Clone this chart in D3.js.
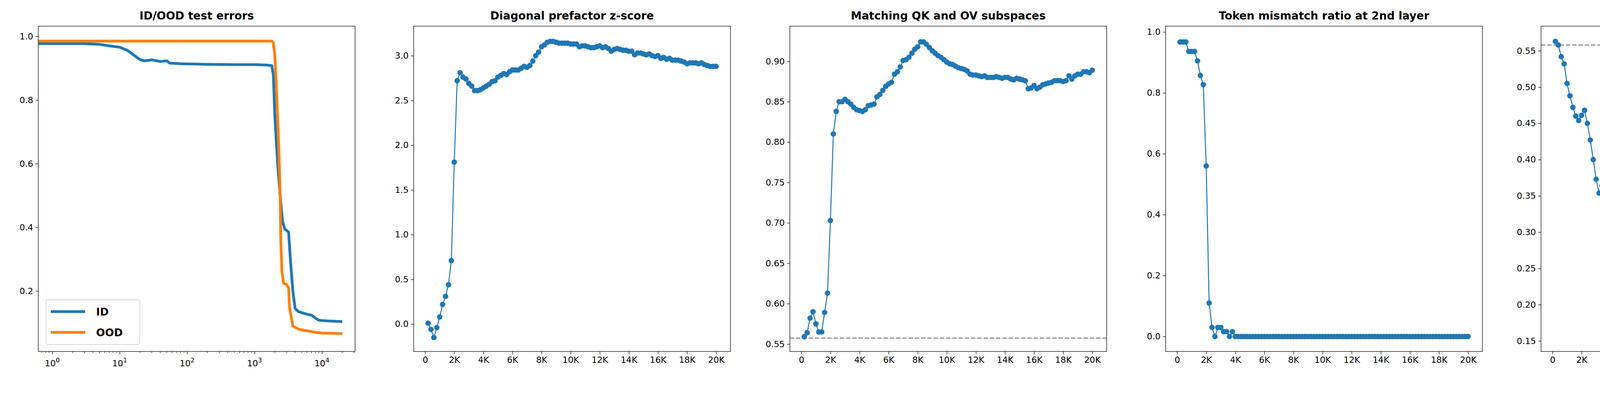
<!DOCTYPE html>
<html>
<head>
<meta charset="utf-8">
<script src="https://cdn.jsdelivr.net/npm/d3@7"></script>
<style>
  body { margin: 0; background: #fff; }
  text { font-family: "DejaVu Sans", sans-serif; }
</style>
</head>
<body>
<svg id="fig" width="4766" height="1055"></svg>
<script>
// ---- data ----
const titles = ["ID/OOD test errors", "Diagonal prefactor z-score", "Matching QK and OV subspaces",
                "Token mismatch ratio at 2nd layer", "Matching wte and 1st OV"];

const idSteps = [0.6, 3, 5, 7, 10, 13, 16, 20, 23, 30, 40, 50, 55, 80, 200, 500, 1000, 1500, 1800, 1900, 2000, 2200, 2400, 2600, 2800, 3000, 3200, 3400, 3700, 4000, 4500, 5000, 6000, 7000, 8000, 9000, 12000, 20000];
const idErr = [0.977, 0.977, 0.975, 0.970, 0.966, 0.956, 0.942, 0.927, 0.923, 0.926, 0.921, 0.923, 0.916, 0.914, 0.912, 0.911, 0.911, 0.910, 0.908, 0.88, 0.75, 0.60, 0.50, 0.42, 0.395, 0.39, 0.385, 0.30, 0.20, 0.145, 0.135, 0.132, 0.127, 0.124, 0.115, 0.108, 0.106, 0.104];
const oodSteps = [0.6, 1800, 1900, 2000, 2100, 2300, 2400, 2450, 2550, 2700, 3000, 3200, 3300, 3700, 4500, 6000, 8000, 10000, 20000];
const oodErr = [0.985, 0.985, 0.98, 0.94, 0.85, 0.64, 0.50, 0.36, 0.26, 0.225, 0.22, 0.21, 0.15, 0.09, 0.08, 0.075, 0.070, 0.068, 0.066];

// steps 200, 400, ..., 20000
const steps = d3.range(200, 20001, 200);

const zScore = [0.01, -0.06, -0.15, -0.04, 0.08, 0.22, 0.31, 0.44, 0.71, 1.81,
  2.72, 2.81, 2.76, 2.74, 2.69, 2.66, 2.61, 2.61, 2.62, 2.64,
  2.66, 2.68, 2.71, 2.72, 2.76, 2.78, 2.80, 2.79, 2.82, 2.84,
  2.84, 2.84, 2.86, 2.88, 2.87, 2.89, 2.94, 3.00, 3.04, 3.10,
  3.12, 3.15, 3.16, 3.16, 3.15, 3.14, 3.14, 3.14, 3.14, 3.13,
  3.13, 3.13, 3.10, 3.11, 3.11, 3.10, 3.09, 3.09, 3.10, 3.11,
  3.09, 3.10, 3.08, 3.05, 3.07, 3.08, 3.07, 3.06, 3.06, 3.05,
  3.05, 3.01, 3.03, 3.03, 3.02, 3.01, 3.02, 3.00, 2.99, 3.00,
  2.97, 2.98, 2.96, 2.97, 2.95, 2.95, 2.95, 2.94, 2.93, 2.91,
  2.92, 2.92, 2.92, 2.91, 2.92, 2.90, 2.89, 2.88, 2.88, 2.88];

const qkov = [0.559, 0.564, 0.582, 0.590, 0.575, 0.565, 0.565, 0.589, 0.613, 0.703,
  0.810, 0.838, 0.850, 0.850, 0.853, 0.850, 0.847, 0.843, 0.840, 0.839,
  0.838, 0.840, 0.845, 0.846, 0.847, 0.856, 0.859, 0.864, 0.869, 0.872,
  0.874, 0.884, 0.887, 0.893, 0.901, 0.902, 0.905, 0.910, 0.915, 0.918,
  0.924, 0.924, 0.921, 0.917, 0.913, 0.910, 0.907, 0.905, 0.902, 0.899,
  0.897, 0.896, 0.894, 0.892, 0.891, 0.890, 0.888, 0.884, 0.883, 0.883,
  0.882, 0.881, 0.882, 0.880, 0.880, 0.880, 0.881, 0.880, 0.879, 0.880,
  0.880, 0.878, 0.877, 0.879, 0.878, 0.877, 0.876, 0.866, 0.867, 0.870,
  0.866, 0.868, 0.871, 0.872, 0.873, 0.874, 0.876, 0.876, 0.876, 0.875,
  0.876, 0.882, 0.878, 0.882, 0.884, 0.884, 0.887, 0.887, 0.886, 0.889];
const qkovBaseline = 0.5573;

const mismatch = [0.967, 0.967, 0.967, 0.936, 0.936, 0.936, 0.905, 0.857, 0.827, 0.56,
  0.11, 0.03, 0.0, 0.03, 0.03, 0.016, 0.016, 0.0, 0.016, 0.0]
  .concat(new Array(80).fill(0));

const wteOv = [0.563, 0.558, 0.542, 0.532, 0.505, 0.488, 0.472, 0.460, 0.454, 0.461,
  0.468, 0.450, 0.427, 0.400, 0.373, 0.354, 0.364, 0.345, 0.325, 0.299,
  0.280, 0.258, 0.241, 0.230, 0.219, 0.213, 0.205, 0.191, 0.182, 0.181,
  0.176, 0.173, 0.170, 0.164, 0.167, 0.167, 0.168, 0.167, 0.163, 0.166,
  0.169, 0.170, 0.172, 0.175, 0.176, 0.176, 0.174, 0.178, 0.179, 0.179,
  0.178, 0.182, 0.179, 0.181, 0.183, 0.184, 0.180, 0.182, 0.183, 0.183,
  0.185, 0.185, 0.185, 0.187, 0.188, 0.188, 0.188, 0.187, 0.187, 0.186,
  0.187, 0.187, 0.184, 0.181, 0.182, 0.179, 0.177, 0.176, 0.176, 0.174,
  0.174, 0.173, 0.173, 0.172, 0.172, 0.170, 0.166, 0.164, 0.164, 0.165,
  0.160, 0.161, 0.159, 0.157, 0.157, 0.159, 0.157, 0.159, 0.157, 0.155];
const wteBaseline = 0.558;

// ---- layout ----
const blue = "#1f77b4", orange = "#ff7f0e";
const panelLeft = [98, 1059, 2022, 2984, 3945];
const panelW = 811, plotTop = 67, plotBottom = 900;
const svg = d3.select("#fig");
const kFmt = v => v === 0 ? "0" : (v / 1000) + "K";

function frame(i, x, y, yTicks, yFmt, xAxisGen) {
  const g = svg.append("g");
  g.append("text").attr("x", panelLeft[i] + panelW / 2).attr("y", 50)
    .attr("text-anchor", "middle").attr("font-size", 28).attr("font-weight", "bold")
    .text(titles[i]);
  const ya = g.append("g").attr("transform", `translate(${panelLeft[i]},0)`)
    .call(d3.axisLeft(y).tickValues(yTicks).tickFormat(yFmt).tickSize(7).tickPadding(6));
  const xa = g.append("g").attr("transform", `translate(0,${plotBottom})`).call(xAxisGen);
  [ya, xa].forEach(a => {
    a.select(".domain").remove();
    a.selectAll("text").attr("font-size", 22).attr("fill", "#000");
    a.selectAll("line").attr("stroke", "#000").attr("stroke-width", 1.3);
  });
  return g;
}
function border(g, i) {
  g.append("rect").attr("x", panelLeft[i]).attr("y", plotTop).attr("width", panelW)
    .attr("height", plotBottom - plotTop).attr("fill", "none").attr("stroke", "#000").attr("stroke-width", 1.3);
}

// panel 1: log-x error curves
{
  const i = 0;
  const x = d3.scaleLog().domain([0.62, 31000]).range([panelLeft[i], panelLeft[i] + panelW]);
  const y = d3.scaleLinear().domain([0.01, 1.032]).range([plotBottom, plotTop]);
  const xAx = d3.axisBottom(x).tickValues([1, 10, 100, 1000, 10000]).tickFormat(() => "").tickSize(7);
  const g = frame(i, x, y, [0.2, 0.4, 0.6, 0.8, 1.0], d3.format(".1f"), xAx);
  // minor ticks
  const minor = [];
  [0.1, 1, 10, 100, 1000, 10000].forEach(d => d3.range(2, 10).forEach(m => { const v = d * m; if (v > 0.62 && v < 31000) minor.push(v); }));
  g.selectAll(".mn").data(minor).join("line").attr("x1", d => x(d)).attr("x2", d => x(d))
    .attr("y1", plotBottom).attr("y2", plotBottom + 4).attr("stroke", "#000").attr("stroke-width", 1);
  // 10^n labels
  const lab = g.selectAll(".lab").data([0, 1, 2, 3, 4]).join("text")
    .attr("x", d => x(Math.pow(10, d))).attr("y", plotBottom + 38).attr("text-anchor", "middle").attr("font-size", 22);
  lab.append("tspan").text("10");
  lab.append("tspan").attr("dy", -10).attr("font-size", 16).text(d => d);
  svg.append("clipPath").attr("id", "c0").append("rect")
    .attr("x", panelLeft[i]).attr("y", plotTop).attr("width", panelW).attr("height", plotBottom - plotTop);
  const line = d3.line().x(d => x(d[0])).y(d => y(d[1]));
  g.append("path").attr("clip-path", "url(#c0)").attr("d", line(d3.zip(idSteps, idErr)))
    .attr("fill", "none").attr("stroke", blue).attr("stroke-width", 7);
  g.append("path").attr("clip-path", "url(#c0)").attr("d", line(d3.zip(oodSteps, oodErr)))
    .attr("fill", "none").attr("stroke", orange).attr("stroke-width", 7);
  border(g, i);
  // legend
  const lg = g.append("g").attr("transform", "translate(118,768)");
  lg.append("rect").attr("width", 240).attr("height", 114).attr("rx", 4)
    .attr("fill", "#fff").attr("fill-opacity", 0.8).attr("stroke", "#ccc").attr("stroke-width", 1.3);
  [["ID", blue], ["OOD", orange]].forEach((d, k) => {
    lg.append("line").attr("x1", 12).attr("x2", 100).attr("y1", 30 + k * 53).attr("y2", 30 + k * 53)
      .attr("stroke", d[1]).attr("stroke-width", 7);
    lg.append("text").attr("x", 128).attr("y", 40 + k * 53).attr("font-size", 27).attr("font-weight", "bold").text(d[0]);
  });
}

// step panels
function stepPanel(i, vals, yDom, yTicks, yFmt, baseline) {
  const x = d3.scaleLinear().domain([-790, 20990]).range([panelLeft[i], panelLeft[i] + panelW]);
  const y = d3.scaleLinear().domain(yDom).range([plotBottom, plotTop]);
  const xAx = d3.axisBottom(x).tickValues(d3.range(0, 20001, 2000)).tickFormat(kFmt).tickSize(7).tickPadding(6);
  const g = frame(i, x, y, yTicks, yFmt, xAx);
  const pts = d3.zip(steps, vals);
  if (baseline !== undefined) {
    g.append("line").attr("x1", panelLeft[i]).attr("x2", panelLeft[i] + panelW)
      .attr("y1", y(baseline)).attr("y2", y(baseline))
      .attr("stroke", "#808080").attr("stroke-width", 2.5).attr("stroke-dasharray", "11,5");
  }
  g.append("path").attr("d", d3.line().x(d => x(d[0])).y(d => y(d[1]))(pts))
    .attr("fill", "none").attr("stroke", blue).attr("stroke-width", 2.5);
  g.selectAll(".pt").data(pts).join("circle").attr("cx", d => x(d[0])).attr("cy", d => y(d[1]))
    .attr("r", 7).attr("fill", blue);
  border(g, i);
}
stepPanel(1, zScore, [-0.306, 3.33], d3.range(0, 3.01, 0.5), d3.format(".1f"));
stepPanel(2, qkov, [0.5408, 0.9435], d3.range(0.55, 0.901, 0.05), d3.format(".2f"), qkovBaseline);
stepPanel(3, mismatch, [-0.049, 1.019], [0, 0.2, 0.4, 0.6, 0.8, 1.0], d3.format(".1f"));
stepPanel(4, wteOv, [0.1355, 0.584], d3.range(0.15, 0.551, 0.05), d3.format(".2f"), wteBaseline);
</script>
</body>
</html>
